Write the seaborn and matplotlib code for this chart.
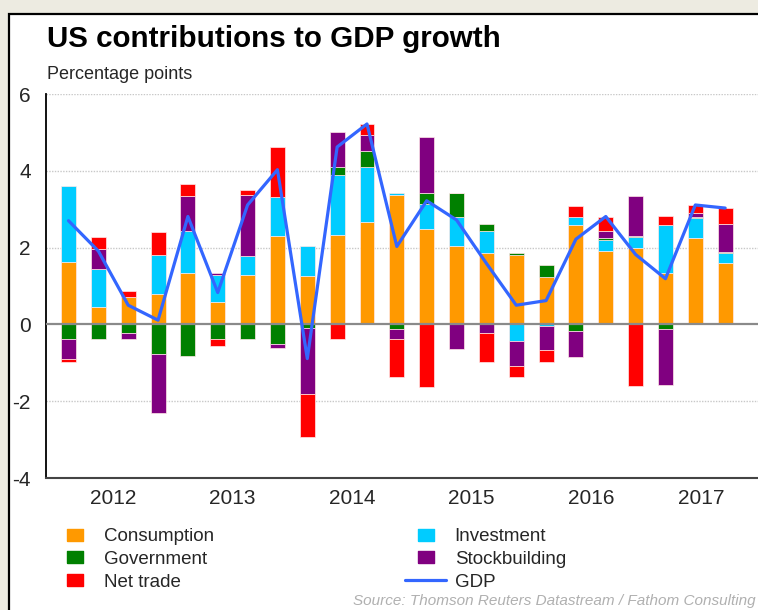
import numpy as np
import pandas as pd
import matplotlib.pyplot as plt
import seaborn as sns
from matplotlib.lines import Line2D
from matplotlib.patches import Rectangle

# quarterly contributions, 2012Q1 - 2017Q3 (percentage points)
quarters = [f"{y}Q{q}" for y in range(2012, 2018) for q in range(1, 5)][:23]
consumption = [1.63, 0.45, 0.71, 0.78, 1.33, 0.59, 1.29, 2.30, 1.27, 2.34, 2.67, 3.36,
               2.49, 2.03, 1.86, 1.81, 1.23, 2.58, 1.91, 1.98, 1.33, 2.25, 1.61]
investment = [1.98, 0.99, 0.00, 1.03, 1.11, 0.70, 0.48, 1.01, 0.77, 1.55, 1.44, 0.05,
              0.65, 0.77, 0.57, -0.42, -0.04, 0.22, 0.28, 0.29, 1.26, 0.53, 0.26]
government = [-0.39, -0.39, -0.23, -0.76, -0.83, -0.38, -0.37, -0.52, -0.10, 0.21, 0.40, -0.12,
              0.28, 0.61, 0.18, 0.04, 0.31, -0.16, 0.07, 0.04, -0.11, 0.02, 0.02]
stockbuilding = [-0.52, 0.53, -0.16, -1.54, 0.91, 0.06, 1.59, -0.10, -1.70, 0.91, 0.41, -0.26,
                 1.46, -0.65, -0.23, -0.67, -0.63, -0.68, 0.16, 1.04, -1.46, 0.11, 0.73]
net_trade = [-0.06, 0.30, 0.17, 0.59, 0.31, -0.18, 0.14, 1.30, -1.13, -0.39, 0.30, -0.99,
             -1.63, 0.00, -0.76, -0.29, -0.30, 0.28, 0.38, -1.61, 0.23, 0.20, 0.41]
gdp = [2.70, 1.91, 0.50, 0.11, 2.81, 0.83, 3.11, 4.03, -0.89, 4.62, 5.22, 2.03,
       3.22, 2.72, 1.59, 0.50, 0.62, 2.22, 2.81, 1.82, 1.19, 3.11, 3.03]
years = ["2012", "2013", "2014", "2015", "2016", "2017"]

series = {
    "Consumption": consumption,
    "Investment": investment,
    "Government": government,
    "Stockbuilding": stockbuilding,
    "Net trade": net_trade,
}
colors = {
    "Consumption": "#FF9900",
    "Investment": "#00CCFF",
    "Government": "#008000",
    "Stockbuilding": "#800080",
    "Net trade": "#FF0000",
}
gdp_color = "#3366FF"

sns.set_style("white")
plt.rcParams["font.family"] = ["Liberation Sans", "DejaVu Sans"]

fig = plt.figure(figsize=(7.58, 6.10), dpi=100)
fig.patch.set_facecolor("#EDEBE1")
# white panel with black frame (cut off right and bottom)
fig.patches.append(Rectangle((9 / 758, -0.02), 1.0, 1 - 14 / 610 + 0.02,
                             transform=fig.transFigure, facecolor="white",
                             edgecolor="black", lw=1.6, zorder=-1))

ax = fig.add_axes([46 / 758, 132 / 610, 712 / 758, 384 / 610])
ax.set_facecolor("none")

pos = np.arange(len(quarters))
df = pd.DataFrame(series, index=quarters)

pos_cum = np.zeros(len(df))
neg_cum = np.zeros(len(df))
for name in series:
    vals = df[name].to_numpy()
    bottom = np.where(vals >= 0, pos_cum, neg_cum)
    sns.barplot(x=pos, y=vals, bottom=bottom, native_scale=True, width=0.5,
                color=colors[name], saturation=1, errorbar=None,
                edgecolor="#ffe8e8", linewidth=0.5, ax=ax, zorder=2)
    pos_cum = pos_cum + np.where(vals >= 0, vals, 0)
    neg_cum = neg_cum + np.where(vals < 0, vals, 0)

sns.lineplot(x=pos, y=gdp, color=gdp_color, lw=2.3, ax=ax, zorder=4)

ax.axhline(0, color="#8a8a8a", lw=1.6, zorder=3)
for yv in [-2, 2, 4, 6]:
    ax.axhline(yv, color="#c8c8c8", lw=1, ls=(0, (1, 1)), zorder=0)

ax.set_xlim(-0.754, 23.1)
ax.set_ylim(-4, 6)
ax.set_xlabel("")
ax.set_ylabel("")

for s in ["top", "right"]:
    ax.spines[s].set_visible(False)
ax.spines["left"].set_color("black")
ax.spines["left"].set_linewidth(1.3)
ax.spines["bottom"].set_color("#444444")
ax.spines["bottom"].set_linewidth(1.5)

ax.set_yticks([-4, -2, 0, 2, 4, 6])
ax.set_yticklabels(["-4", "-2", "0", "2", "4", "6"])
ax.set_yticks(np.arange(-4, 6.01, 0.5), minor=True)
ax.tick_params(axis="y", which="major", direction="out", length=4, width=1,
               color="black", labelsize=15, pad=7)
ax.tick_params(axis="y", which="minor", direction="out", length=3, width=1, color="black")

year_centers = [1.5, 5.5, 9.5, 13.5, 17.5, 21.2]
ax.set_xticks(year_centers)
ax.set_xticklabels(years)
ax.set_xticks(np.arange(-0.5, 23, 1), minor=True)
ax.tick_params(axis="x", which="major", length=0, labelsize=15, pad=8)
ax.tick_params(axis="x", which="minor", direction="out", length=4, width=1, color="black")

fig.text(47 / 758, 1 - 47 / 610, "US contributions to GDP growth", fontsize=21.3,
         fontweight="bold", color="black", va="baseline")
fig.text(47 / 758, 1 - 79 / 610, "Percentage points", fontsize=13, va="baseline")

rect = [(-1, -0.7), (1, -0.7), (1, 0.7), (-1, 0.7), (-1, -0.7)]
def sq(name):
    return Line2D([], [], ls="none", marker=rect, markersize=12,
                  markerfacecolor=colors[name], markeredgecolor=colors[name])

handles = [sq("Consumption"), sq("Government"), sq("Net trade"),
           sq("Investment"), sq("Stockbuilding"),
           Line2D([], [], color=gdp_color, lw=2.3)]
labels = ["Consumption", "Government", "Net trade", "Investment", "Stockbuilding", "GDP"]
fig.legend(handles, labels, ncol=2, loc="upper left", bbox_to_anchor=(54 / 758, 1 - 528 / 610),
           frameon=False, fontsize=13.5, handlelength=2.2, handletextpad=0.45,
           columnspacing=10.2, labelspacing=0.3, borderpad=0, borderaxespad=0)

fig.text(756 / 758, 1 - 605 / 610, "Source: Thomson Reuters Datastream / Fathom Consulting",
         fontsize=11, style="italic", color="#b0b0b0", va="baseline", ha="right")

fig.savefig("out.png", dpi=100, facecolor=fig.get_facecolor())
